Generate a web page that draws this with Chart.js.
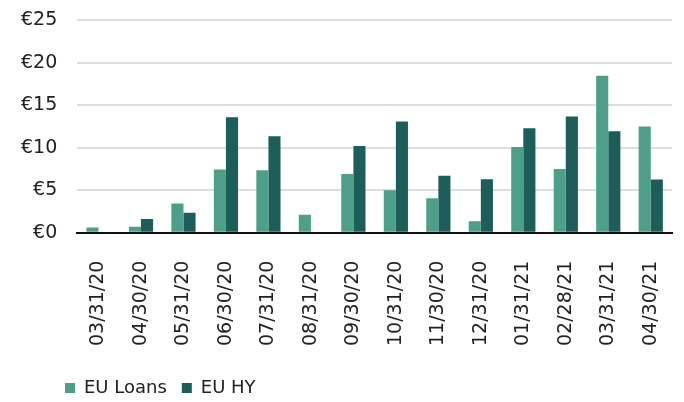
<!DOCTYPE html>
<html>
<head>
<meta charset="utf-8">
<script src="https://cdn.jsdelivr.net/npm/chart.js@4/dist/chart.umd.min.js"></script>
<style>
  html, body { margin: 0; padding: 0; background: #fff; }
  #wrap { width: 684px; height: 402px; }
</style>
</head>
<body>
<div id="wrap"><canvas id="myChart" width="684" height="402"></canvas></div>
<script>
const dates = ['03/31/20', '04/30/20', '05/31/20', '06/30/20', '07/31/20', '08/31/20', '09/30/20',
               '10/31/20', '11/30/20', '12/31/20', '01/31/21', '02/28/21', '03/31/21', '04/30/21'];
const euLoans = [0.6, 0.7, 3.45, 7.45, 7.35, 2.1, 6.9, 5.0, 4.05, 1.35, 10.1, 7.5, 18.5, 12.5];
const euHY = [0, 1.6, 2.35, 13.6, 11.35, 0, 10.2, 13.1, 6.7, 6.3, 12.3, 13.7, 11.95, 6.25];
const yTicks = [0, 5, 10, 15, 20, 25];

const fontFamily = "'DejaVu Sans', sans-serif";

// nudge the legend to the right, as in the original
const legendShift = {
    id: 'legendShift',
    afterLayout(chart) {
        chart.legend.left += 49;
        chart.legend.right += 49;
    }
};

var ctx = document.getElementById('myChart').getContext('2d');
var chart = new Chart(ctx, {
    type: 'bar',
    data: {
        labels: dates,
        datasets: [{
            label: 'EU Loans',
            backgroundColor: '#4e9f8a',
            data: euLoans
        }, {
            label: 'EU HY',
            backgroundColor: '#1e5e5a',
            data: euHY
        }]
    },
    plugins: [legendShift],
    options: {
        responsive: false,
        animation: false,
        devicePixelRatio: 1,
        layout: { padding: { left: 1, right: 12, top: 2, bottom: -5 } },
        datasets: {
            bar: { categoryPercentage: 0.57, barPercentage: 1.0 }
        },
        plugins: {
            legend: {
                position: 'bottom',
                align: 'start',
                labels: {
                    boxWidth: 10,
                    boxHeight: 10,
                    padding: 15,
                    color: '#222',
                    font: { family: fontFamily, size: 18 }
                }
            },
            tooltip: { enabled: false }
        },
        scales: {
            x: {
                grid: { display: false, drawTicks: false },
                border: { display: true, color: '#111', width: 2 },
                afterFit: function (scale) {
                    scale.height -= 10;
                    scale.paddingLeft = 0;
                    scale.paddingRight = 0;
                },
                ticks: {
                    color: '#222',
                    minRotation: 90,
                    maxRotation: 90,
                    padding: 28,
                    font: { family: fontFamily, size: 19 }
                }
            },
            y: {
                min: 0,
                max: 25,
                afterBuildTicks: function (axis) {
                    axis.ticks = yTicks.map(v => ({ value: v }));
                },
                border: { display: false },
                grid: {
                    color: '#dedede',
                    lineWidth: 2,
                    drawTicks: false
                },
                ticks: {
                    color: '#222',
                    padding: 20,
                    font: { family: fontFamily, size: 19, lineHeight: 0.05 },
                    callback: function (value) { return '€' + value; }
                }
            }
        }
    }
});
</script>
</body>
</html>
